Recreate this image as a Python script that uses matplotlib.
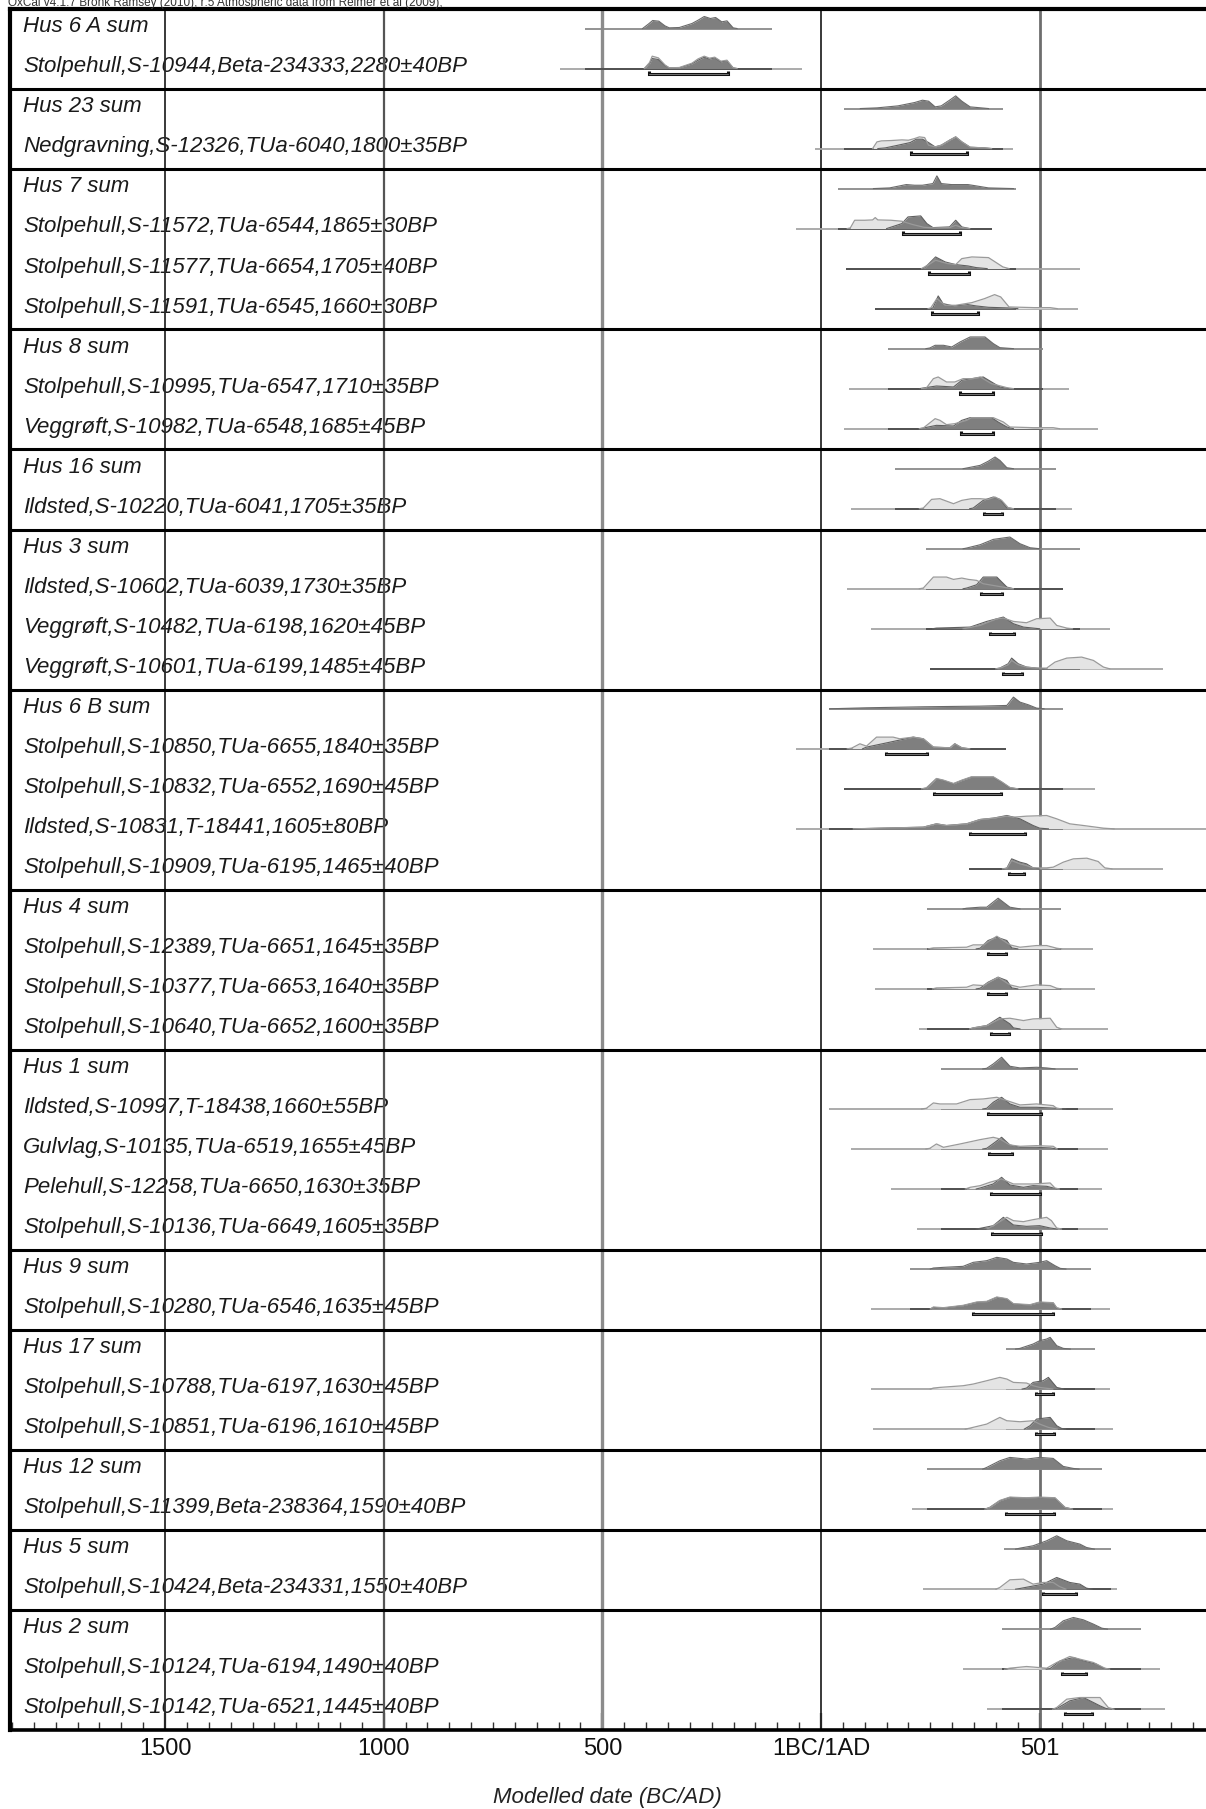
import matplotlib
matplotlib.use("Agg")
import matplotlib.pyplot as plt
import matplotlib.transforms as mtransforms
from matplotlib.ticker import MultipleLocator, FixedLocator, FixedFormatter

plt.rcParams['font.family'] = ['Liberation Sans', 'DejaVu Sans']

# ---------------- data ----------------
labels = [
    "Hus 6 A sum", "Stolpehull,S-10944,Beta-234333,2280±40BP",
    "Hus 23 sum", "Nedgravning,S-12326,TUa-6040,1800±35BP",
    "Hus 7 sum", "Stolpehull,S-11572,TUa-6544,1865±30BP",
    "Stolpehull,S-11577,TUa-6654,1705±40BP", "Stolpehull,S-11591,TUa-6545,1660±30BP",
    "Hus 8 sum", "Stolpehull,S-10995,TUa-6547,1710±35BP", "Veggrøft,S-10982,TUa-6548,1685±45BP",
    "Hus 16 sum", "Ildsted,S-10220,TUa-6041,1705±35BP",
    "Hus 3 sum", "Ildsted,S-10602,TUa-6039,1730±35BP", "Veggrøft,S-10482,TUa-6198,1620±45BP",
    "Veggrøft,S-10601,TUa-6199,1485±45BP",
    "Hus 6 B sum", "Stolpehull,S-10850,TUa-6655,1840±35BP", "Stolpehull,S-10832,TUa-6552,1690±45BP",
    "Ildsted,S-10831,T-18441,1605±80BP", "Stolpehull,S-10909,TUa-6195,1465±40BP",
    "Hus 4 sum", "Stolpehull,S-12389,TUa-6651,1645±35BP", "Stolpehull,S-10377,TUa-6653,1640±35BP",
    "Stolpehull,S-10640,TUa-6652,1600±35BP",
    "Hus 1 sum", "Ildsted,S-10997,T-18438,1660±55BP", "Gulvlag,S-10135,TUa-6519,1655±45BP",
    "Pelehull,S-12258,TUa-6650,1630±35BP", "Stolpehull,S-10136,TUa-6649,1605±35BP",
    "Hus 9 sum", "Stolpehull,S-10280,TUa-6546,1635±45BP",
    "Hus 17 sum", "Stolpehull,S-10788,TUa-6197,1630±45BP", "Stolpehull,S-10851,TUa-6196,1610±45BP",
    "Hus 12 sum", "Stolpehull,S-11399,Beta-238364,1590±40BP",
    "Hus 5 sum", "Stolpehull,S-10424,Beta-234331,1550±40BP",
    "Hus 2 sum", "Stolpehull,S-10124,TUa-6194,1490±40BP", "Stolpehull,S-10142,TUa-6521,1445±40BP",
]

# range of the line under each distribution (years, BC negative)
line_lo = [-540, -597, 53, -13, 39, -58, 58, 124, 154, 64, 53, 169, 69, 241, 59, 114, 249,
           19, -57, 53, -57, 339, 243, 118, 123, 225, 274, 19, 69, 159, 219, 203, 114,
           423, 114, 120, 243, 207, 418, 234, 413, 324, 379]
line_hi = [-112, -43, 416, 438, 447, 392, 592, 588, 508, 566, 634, 537, 573, 592, 553, 662, 783,
           553, 423, 627, 900, 783, 548, 623, 627, 657, 587, 668, 657, 642, 657, 617, 662,
           627, 662, 668, 642, 668, 663, 678, 732, 775, 786]

# 95% range brackets (None for sums)
brk_lo = [None, -394, None, 206, None, 187, 246, 254, None, 318, 320, None, 373, None, 366, 386, 417,
          None, 149, 258, 341, 431, None, 383, 383, 388, None, 383, 385, 388, 391, None, 347,
          None, 491, 491, None, 423, None, 507, None, 550, 559]
brk_hi = [None, -213, None, 333, None, 317, 338, 359, None, 394, 394, None, 415, None, 413, 441, 459,
          None, 242, 411, 466, 465, None, 424, 424, 429, None, 503, 436, 501, 503, None, 531,
          None, 531, 533, None, 533, None, 583, None, 607, 620]

# unmodelled (likelihood) distributions: (year, relative probability)
prior_pts = [
    [],
    [(-404, 0), (-392, 18), (-386, 37), (-372, 32), (-357, 11), (-347, 2), (-324, 3), (-295, 16),
     (-281, 29), (-267, 37), (-255, 31), (-243, 34), (-229, 22), (-215, 25), (-201, 2), (-192, 0)],
    [],
    [(118, 0), (128, 20), (138, 23), (160, 24), (185, 26), (200, 25), (214, 30), (225, 35), (237, 33),
     (246, 10), (261, 5), (275, 10), (294, 25), (308, 35), (322, 20), (341, 4), (374, 2), (390, 0)],
    [],
    [(60, 0), (67, 2), (77, 25), (100, 25), (118, 26), (124, 33), (130, 26), (160, 25), (185, 22),
     (210, 12), (235, 4), (260, 2), (294, 3), (308, 10), (322, 3), (340, 0)],
    [(230, 0), (250, 15), (262, 25), (290, 15), (308, 12), (322, 30), (345, 35), (383, 33), (416, 5), (430, 0)],
    [(245, 0), (251, 2), (265, 30), (284, 10), (308, 10), (345, 18), (374, 30), (397, 42), (411, 35),
     (430, 5), (487, 3), (524, 3), (540, 0)],
    [],
    [(230, 0), (241, 2), (257, 30), (268, 35), (287, 20), (306, 20), (325, 30), (348, 30), (364, 35),
     (390, 15), (425, 3), (440, 0)],
    [(225, 0), (234, 2), (261, 30), (272, 25), (287, 12), (306, 15), (333, 25), (344, 33), (394, 33),
     (417, 20), (432, 5), (485, 3), (531, 3), (545, 0)],
    [],
    [(225, 0), (234, 2), (253, 28), (272, 30), (303, 15), (322, 25), (344, 30), (364, 30), (382, 28),
     (398, 35), (413, 25), (428, 3), (440, 0)],
    [],
    [(225, 0), (234, 2), (257, 35), (287, 35), (303, 28), (322, 32), (337, 28), (356, 25), (371, 15),
     (402, 8), (425, 3), (440, 0)],
    [(325, 0), (333, 2), (364, 10), (402, 30), (417, 32), (440, 22), (470, 18), (493, 30), (524, 32),
     (539, 10), (562, 2), (575, 0)],
    [(400, 0), (409, 2), (428, 12), (436, 25), (451, 12), (470, 5), (493, 2), (516, 2), (535, 20),
     (562, 32), (596, 35), (623, 25), (646, 5), (660, 0)],
    [],
    [(60, 0), (70, 2), (89, 15), (104, 8), (127, 35), (165, 35), (180, 30), (211, 35), (234, 30),
     (257, 5), (295, 3), (306, 15), (322, 3), (340, 0)],
    [(230, 0), (241, 3), (264, 31), (280, 26), (303, 16), (322, 26), (344, 36), (394, 36), (413, 21),
     (432, 4), (450, 0)],
    [(74, 0), (234, 5), (264, 15), (287, 10), (333, 15), (364, 28), (394, 32), (425, 38), (440, 35),
     (470, 38), (516, 40), (539, 30), (569, 15), (600, 10), (646, 2), (670, 0)],
    [(415, 0), (425, 2), (436, 25), (455, 15), (470, 10), (485, 3), (516, 3), (531, 5), (554, 20),
     (577, 30), (608, 32), (634, 22), (649, 3), (665, 0)],
    [],
    [(245, 0), (257, 3), (333, 5), (348, 12), (371, 12), (402, 38), (432, 12), (455, 5), (493, 10),
     (516, 10), (539, 2), (550, 0)],
    [(255, 0), (264, 3), (333, 5), (348, 12), (371, 10), (405, 35), (432, 12), (455, 5), (493, 12),
     (524, 10), (539, 2), (550, 0)],
    [(340, 0), (348, 3), (379, 10), (409, 30), (432, 32), (463, 25), (485, 30), (524, 32), (539, 5), (550, 0)],
    [],
    [(230, 0), (241, 2), (257, 18), (272, 15), (310, 15), (341, 28), (371, 30), (402, 35), (425, 25),
     (455, 12), (493, 15), (531, 10), (539, 2), (550, 0)],
    [(240, 0), (249, 2), (264, 15), (280, 5), (318, 15), (364, 28), (394, 35), (409, 30), (432, 12),
     (455, 8), (493, 10), (531, 8), (540, 0)],
    [(330, 0), (341, 5), (364, 10), (386, 20), (413, 30), (440, 15), (485, 15), (524, 18), (535, 3), (545, 0)],
    [(380, 0), (394, 10), (425, 35), (440, 25), (463, 22), (485, 28), (516, 35), (527, 25), (539, 3), (550, 0)],
    [],
    [(250, 0), (257, 6), (280, 4), (325, 11), (356, 21), (379, 23), (402, 36), (425, 31), (440, 16),
     (478, 13), (500, 21), (531, 19), (539, 4), (550, 0)],
    [],
    [(250, 0), (257, 3), (272, 5), (325, 10), (348, 15), (379, 25), (409, 35), (425, 30), (440, 20),
     (470, 18), (485, 10), (500, 5), (530, 0)],
    [(330, 0), (341, 3), (379, 15), (409, 35), (425, 25), (455, 22), (485, 25), (500, 15), (520, 5), (540, 0)],
    [],
    [(375, 0), (386, 5), (409, 26), (432, 36), (470, 34), (500, 36), (535, 34), (558, 5), (575, 0)],
    [],
    [(400, 0), (409, 5), (432, 28), (463, 30), (485, 15), (508, 20), (531, 20), (545, 8), (560, 0)],
    [],
    [(420, 0), (432, 3), (470, 8), (516, 3), (539, 20), (569, 38), (592, 30), (623, 20), (649, 3), (660, 0)],
    [(530, 0), (539, 5), (562, 30), (592, 35), (638, 35), (657, 5), (670, 0)],
]

# modelled (posterior) distributions and sums: (year, relative probability)
post_pts = [
    [(-408, 0), (-394, 14), (-385, 24), (-371, 22), (-357, 8), (-347, 2), (-324, 3), (-295, 15),
     (-281, 25), (-267, 36), (-253, 30), (-241, 33), (-227, 20), (-215, 23), (-201, 2), (-192, 0)],
    [(-404, 0), (-392, 14), (-386, 30), (-372, 27), (-357, 9), (-347, 2), (-324, 2), (-295, 14),
     (-281, 25), (-267, 34), (-255, 28), (-243, 32), (-229, 20), (-215, 23), (-201, 2), (-192, 0)],
    [(90, 0), (128, 2), (176, 8), (214, 18), (232, 25), (246, 22), (261, 5), (275, 8), (294, 25),
     (308, 38), (322, 22), (341, 5), (383, 0)],
    [(130, 0), (147, 2), (176, 10), (204, 18), (218, 28), (232, 28), (246, 18), (261, 5), (275, 10),
     (294, 25), (308, 35), (322, 20), (341, 4), (374, 2), (390, 0)],
    [(120, 0), (157, 2), (195, 12), (214, 10), (232, 10), (256, 15), (265, 38), (275, 15), (298, 12),
     (336, 12), (355, 8), (383, 2), (440, 0)],
    [(150, 0), (157, 3), (185, 15), (199, 35), (228, 38), (242, 15), (256, 3), (294, 5), (308, 25),
     (322, 5), (340, 0)],
    [(230, 0), (237, 2), (262, 35), (284, 20), (308, 12), (336, 8), (355, 3), (380, 0)],
    [(250, 0), (256, 2), (268, 38), (279, 15), (303, 8), (336, 12), (355, 8), (383, 4), (430, 2), (450, 0)],
    [(240, 0), (249, 2), (261, 10), (280, 10), (299, 5), (318, 20), (341, 35), (375, 35), (394, 15),
     (409, 3), (440, 0)],
    [(225, 0), (234, 2), (264, 8), (303, 5), (322, 25), (344, 30), (371, 35), (390, 20), (409, 5), (430, 0)],
    [(225, 0), (234, 2), (264, 10), (303, 8), (322, 25), (341, 33), (390, 33), (405, 20), (425, 5), (440, 0)],
    [(325, 0), (333, 2), (364, 10), (382, 22), (398, 35), (409, 25), (425, 3), (440, 0)],
    [(340, 0), (348, 2), (371, 25), (394, 35), (409, 28), (425, 3), (440, 0)],
    [(325, 0), (333, 2), (364, 12), (394, 28), (432, 35), (455, 15), (478, 3), (500, 0)],
    [(325, 0), (333, 2), (356, 12), (371, 35), (402, 35), (425, 5), (440, 0)],
    [(255, 0), (264, 2), (341, 5), (379, 22), (417, 35), (440, 15), (463, 5), (485, 2), (500, 0)],
    [(400, 0), (409, 2), (428, 15), (436, 32), (451, 15), (470, 5), (493, 2), (510, 0)],
    [(20, 0), (104, 3), (234, 6), (364, 8), (425, 10), (440, 35), (455, 20), (474, 12), (493, 2), (510, 0)],
    [(95, 0), (104, 5), (158, 20), (211, 35), (234, 30), (257, 5), (295, 3), (306, 15), (322, 3), (340, 0)],
    [(230, 0), (241, 2), (264, 30), (280, 25), (303, 15), (322, 25), (344, 35), (394, 35), (413, 20),
     (432, 3), (450, 0)],
    [(74, 0), (234, 5), (264, 15), (287, 10), (333, 15), (364, 28), (394, 32), (425, 40), (455, 30),
     (485, 10), (500, 2), (520, 0)],
    [(415, 0), (425, 2), (436, 30), (455, 20), (470, 15), (485, 3), (500, 0)],
    [(325, 0), (333, 2), (364, 5), (379, 5), (405, 32), (432, 5), (455, 0)],
    [(355, 0), (364, 2), (382, 25), (402, 35), (425, 25), (436, 3), (450, 0)],
    [(355, 0), (364, 2), (382, 20), (405, 35), (425, 25), (436, 3), (450, 0)],
    [(340, 0), (348, 3), (379, 10), (409, 35), (432, 15), (440, 3), (455, 0)],
    [(370, 0), (379, 2), (394, 15), (413, 35), (432, 8), (455, 3), (493, 5), (516, 3), (535, 0)],
    [(370, 0), (379, 2), (394, 20), (413, 35), (432, 15), (455, 5), (493, 5), (524, 3), (560, 0)],
    [(370, 0), (379, 2), (398, 20), (413, 35), (432, 12), (455, 5), (493, 5), (524, 3), (540, 0)],
    [(355, 0), (364, 3), (394, 15), (413, 35), (432, 12), (463, 5), (485, 10), (516, 8), (540, 0)],
    [(355, 0), (364, 2), (394, 10), (417, 35), (440, 12), (470, 8), (500, 10), (524, 3), (540, 0)],
    [(250, 0), (257, 3), (280, 5), (325, 8), (348, 20), (379, 25), (402, 35), (425, 30), (440, 20),
     (470, 15), (500, 20), (516, 25), (535, 10), (547, 2), (560, 0)],
    [(250, 0), (257, 5), (280, 3), (325, 10), (356, 20), (379, 22), (402, 35), (425, 30), (440, 15),
     (478, 12), (500, 20), (531, 18), (539, 3), (550, 0)],
    [(445, 0), (455, 2), (485, 15), (500, 25), (516, 30), (524, 35), (539, 10), (554, 2), (570, 0)],
    [(460, 0), (470, 3), (485, 20), (508, 25), (520, 35), (539, 5), (555, 0)],
    [(465, 0), (478, 10), (493, 30), (524, 35), (539, 10), (550, 2), (560, 0)],
    [(370, 0), (379, 5), (409, 25), (432, 35), (470, 30), (500, 35), (531, 32), (554, 8), (577, 2), (590, 0)],
    [(375, 0), (386, 5), (409, 25), (432, 35), (470, 33), (500, 35), (535, 33), (558, 5), (575, 0)],
    [(445, 0), (455, 3), (485, 10), (516, 25), (539, 40), (562, 25), (592, 15), (607, 5), (625, 0)],
    [(445, 0), (455, 2), (508, 15), (539, 35), (569, 20), (592, 15), (607, 3), (620, 0)],
    [(525, 0), (535, 5), (554, 25), (577, 35), (600, 28), (623, 15), (642, 3), (655, 0)],
    [(515, 0), (524, 2), (547, 25), (577, 35), (600, 25), (630, 15), (646, 3), (660, 0)],
    [(525, 0), (539, 2), (569, 25), (600, 35), (623, 20), (638, 10), (652, 2), (665, 0)],
]

grid_years = [-1500, -1000, -500, 0, 500]
tick_labels = ["1500", "1000", "500", "1BC/1AD", "501"]
header = "OxCal v4.1.7 Bronk Ramsey (2010); r:5 Atmospheric data from Reimer et al (2009);"
xlabel = "Modelled date (BC/AD)"

# ---------------- figure ----------------
W, H = 1206, 1809
fig = plt.figure(figsize=(W / 100, H / 100), dpi=100)
ax_left, ax_right, ax_top, ax_bot = 10, 1206, 9.3, 1730
ax = fig.add_axes([ax_left / W, 1 - ax_bot / H, (ax_right - ax_left) / W, (ax_bot - ax_top) / H])

px_per_year = 0.4373
zero_px = 821
ax.set_xlim((ax_left - zero_px) / px_per_year, (ax_right - zero_px) / px_per_year)
n = len(labels)
ax.set_ylim(n, 0)

HSCALE = 1 / 120.0     # relative prob -> row units
BASE = 0.48            # baseline position within row

lab_tr = mtransforms.blended_transform_factory(ax.transAxes, ax.transData)

group_lo, group_hi = None, None
group_starts = []
for i, lab in enumerate(labels):
    is_sum = lab.endswith(" sum")
    yb = i + BASE
    ax.text(13 / (ax_right - ax_left), i + 0.44, lab, transform=lab_tr, fontsize=16,
            style='italic', color='#1a1a1a', va='center', ha='left', zorder=1)
    if is_sum:
        group_starts.append(i)
        group_lo, group_hi = line_lo[i], line_hi[i]
        ax.plot([line_lo[i], line_hi[i]], [yb, yb], color='#8a8a8a', lw=1.3, zorder=3,
                solid_capstyle='butt')
        xs = [p[0] for p in post_pts[i]]
        hs = [yb - p[1] * HSCALE for p in post_pts[i]]
        ax.fill_between(xs, hs, yb, color='#7f7f7f', lw=0, zorder=4)
        ax.plot(xs, hs, color='#6a6a6a', lw=0.8, zorder=5)
    else:
        ax.plot([line_lo[i], line_hi[i]], [yb, yb], color='#a5a5a5', lw=1.3, zorder=3,
                solid_capstyle='butt')
        dlo, dhi = max(group_lo, line_lo[i]), min(group_hi, line_hi[i])
        ax.plot([dlo, dhi], [yb, yb], color='#4a4a4a', lw=1.3, zorder=3, solid_capstyle='butt')
        pxs = [p[0] for p in prior_pts[i]]
        phs = [yb - p[1] * HSCALE for p in prior_pts[i]]
        ax.fill_between(pxs, phs, yb, color='#e4e4e4', lw=0, zorder=4)
        xs = [p[0] for p in post_pts[i]]
        hs = [yb - p[1] * HSCALE for p in post_pts[i]]
        ax.fill_between(xs, hs, yb, color='#7f7f7f', lw=0, zorder=5)
        ax.plot(xs, hs, color='#606060', lw=0.8, zorder=6)
        ax.plot(pxs, phs, color='#9a9a9a', lw=0.9, zorder=6)
        if brk_lo[i] is not None:
            yk = yb + 0.13
            ax.plot([brk_lo[i], brk_lo[i], brk_hi[i], brk_hi[i]], [yb + 0.07, yk, yk, yb + 0.07],
                    color='#111111', lw=2.2, zorder=7, solid_joinstyle='miter',
                    solid_capstyle='butt')
            ax.plot([brk_lo[i], brk_hi[i]], [yk - 0.004, yk - 0.004], color='#9a9a9a', lw=0.5, zorder=8)

# group separators
for g in group_starts[1:]:
    ax.axhline(g, color='black', lw=2.2, zorder=9)

# vertical reference lines
vcols = ['#2a2a2a', '#555555', '#8c8c8c', '#2a2a2a', '#6e6e6e']
vlws = [1.3, 1.6, 2.4, 1.3, 2.0]
for yr, c, lw in zip(grid_years, vcols, vlws):
    ax.axvline(yr, color=c, lw=lw, zorder=2)

# spines
ax.spines['right'].set_visible(False)
ax.spines['left'].set_linewidth(3.0)
ax.spines['top'].set_linewidth(3.0)
ax.spines['bottom'].set_linewidth(2.6)

ax.set_yticks([])
ax.xaxis.set_major_locator(FixedLocator(grid_years))
ax.xaxis.set_major_formatter(FixedFormatter(tick_labels))
ax.xaxis.set_minor_locator(MultipleLocator(50))
ax.tick_params(axis='x', which='major', direction='in', length=12, width=1.6, pad=6,
               labelsize=15, colors='#111111')
ax.tick_params(axis='x', which='minor', direction='in', length=6, width=1.0, colors='#333333')
for t in ax.get_xticklabels():
    t.set_family(['Liberation Sans Narrow', 'Liberation Sans', 'DejaVu Sans'])
    t.set_fontsize(17)

fig.text(607 / W, 1 - 1797 / H, xlabel, ha='center', va='center', fontsize=16,
         style='italic', color='#222222')
fig.text(8 / W, 1 - 6 / H, header, ha='left', va='baseline', fontsize=8.5, color='#333333')

fig.savefig("out.png", dpi=100)
